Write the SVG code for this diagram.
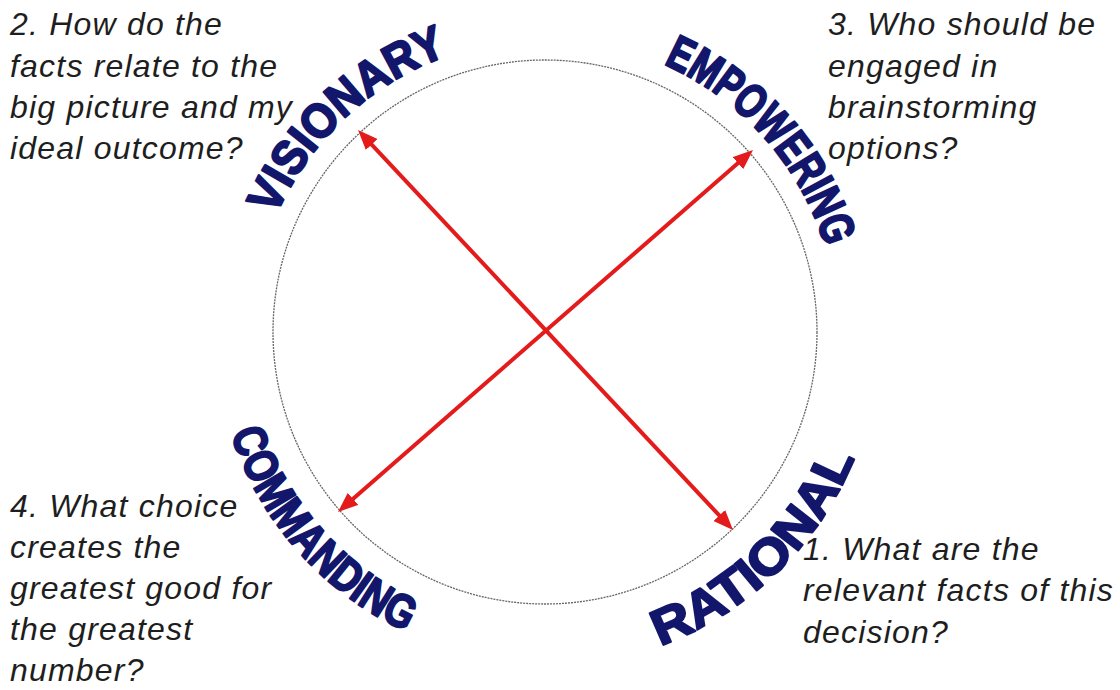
<svg xmlns="http://www.w3.org/2000/svg" width="1120" height="690" viewBox="0 0 1120 690">
  <style>
    .q { font-family: "Liberation Sans", Arial, sans-serif; font-style: italic; font-size: 32px; letter-spacing: 1.2px; fill: #1e1e1e; }
    .w { font-family: "Liberation Sans", Arial, sans-serif; font-weight: bold; fill: #13176b; stroke: #13176b; stroke-width: 2.2; stroke-linejoin: round; }
    .arrow { stroke: #e31b1b; stroke-width: 4; fill: none; marker-start: url(#ah); marker-end: url(#ah); }
  </style>
  <defs>
    <marker id="ah" viewBox="0 0 20 16" refX="12" refY="8" markerWidth="20" markerHeight="16" markerUnits="userSpaceOnUse" orient="auto-start-reverse">
      <path d="M0,0 L20,8 L0,16 z" fill="#e31b1b"/>
    </marker>
    <path id="pVis" d="M277.3,212.8 A293,293 0 0 1 444.8,56.7"/>
    <path id="pEmp" d="M664.2,64.3 A293,293 0 0 1 825.2,246.3"/>
    <path id="pCom" d="M229.4,428.5 A330,330 0 0 0 410.8,633.5"/>
    <path id="pRat" d="M659.2,645.9 A334,334 0 0 0 854.7,457.1"/>
  </defs>
  <rect width="1120" height="690" fill="#ffffff"/>

  <g id="circle">
    <circle cx="545" cy="332" r="272" fill="none" stroke="#666666" stroke-width="1.3" stroke-dasharray="2 1"/>
  </g>

  <g id="connectors">
    <line class="arrow" x1="363.5" y1="135.8" x2="727.5" y2="524.2"/>
    <line class="arrow" x1="747.0" y1="155.3" x2="344.0" y2="506.7"/>
  </g>

  <g id="visionary">
    <text class="w" font-size="48"><textPath href="#pVis" startOffset="50%" text-anchor="middle" textLength="242" lengthAdjust="spacingAndGlyphs">VISIONARY</textPath></text>
  </g>
  <g id="empowering">
    <text class="w" font-size="48"><textPath href="#pEmp" startOffset="50%" text-anchor="middle" textLength="252" lengthAdjust="spacingAndGlyphs">EMPOWERING</textPath></text>
  </g>
  <g id="commanding">
    <text class="w" font-size="47"><textPath href="#pCom" startOffset="50%" text-anchor="middle" textLength="272" lengthAdjust="spacingAndGlyphs">COMMANDING</textPath></text>
  </g>
  <g id="rational">
    <text class="w" font-size="50"><textPath href="#pRat" startOffset="50%" text-anchor="middle" textLength="278" lengthAdjust="spacingAndGlyphs">RATIONAL</textPath></text>
  </g>

  <g id="q2">
    <text class="q" x="10" y="35">2. How do the</text>
    <text class="q" x="10" y="77">facts relate to the</text>
    <text class="q" x="10" y="118">big picture and my</text>
    <text class="q" x="10" y="159">ideal outcome?</text>
  </g>
  <g id="q3">
    <text class="q" x="828" y="35">3. Who should be</text>
    <text class="q" x="828" y="77">engaged in</text>
    <text class="q" x="828" y="118">brainstorming</text>
    <text class="q" x="828" y="159">options?</text>
  </g>
  <g id="q4">
    <text class="q" x="10" y="517">4. What choice</text>
    <text class="q" x="10" y="558">creates the</text>
    <text class="q" x="10" y="599">greatest good for</text>
    <text class="q" x="10" y="640">the greatest</text>
    <text class="q" x="10" y="681">number?</text>
  </g>
  <g id="q1">
    <text class="q" x="803" y="560">1. What are the</text>
    <text class="q" x="803" y="601">relevant facts of this</text>
    <text class="q" x="803" y="643">decision?</text>
  </g>
</svg>
